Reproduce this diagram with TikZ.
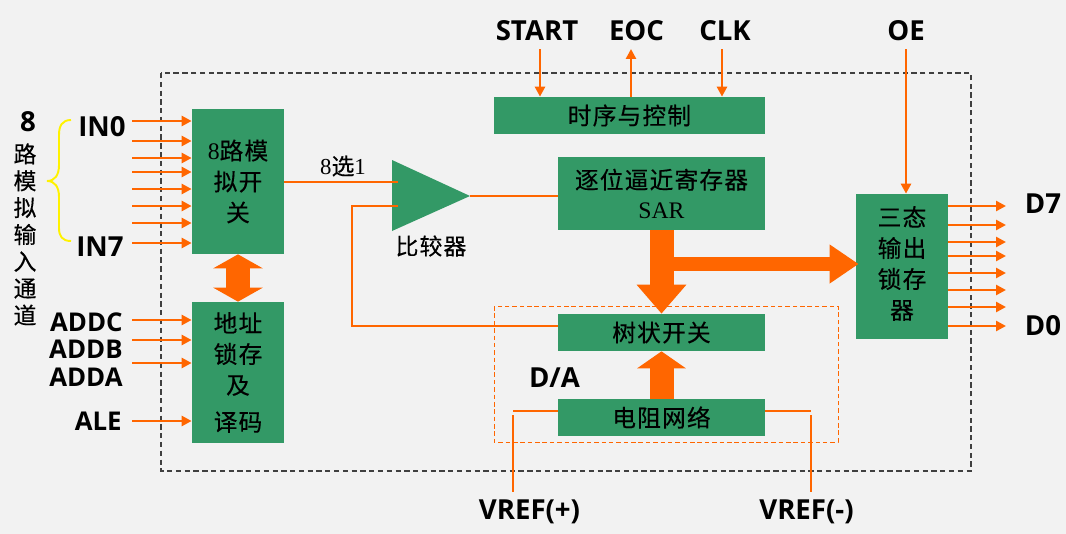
\documentclass[tikz,border=0pt]{standalone}
\usepackage{fontspec}
\setmainfont{Liberation Serif}
\newfontfamily\cjkfont[LetterSpace=5,FakeBold=0.35]{Noto Sans CJK SC}
\newfontfamily\labfont{Open Sans}
\usetikzlibrary{arrows.meta}
\definecolor{blockgreen}{HTML}{339966}
\definecolor{wireorange}{HTML}{FF6600}
\definecolor{pagegray}{HTML}{F2F2F2}
\newcommand{\zh}[1]{{\cjkfont #1}}
\tikzset{
  blockbox/.style={fill=blockgreen,inner sep=0pt,align=center,font=\fontsize{13.5}{17.6}\selectfont},
  wire/.style={wireorange,line width=1.6pt},
  sigline/.style={wire,-{Triangle[length=0.2cm,width=0.2cm]}},
  fatline/.style={wireorange,line width=0.48cm},
  pinlabel/.style={inner sep=0pt,font=\fontsize{15.7}{18}\selectfont\labfont\bfseries},
  addlabel/.style={pinlabel,anchor=east,font=\fontsize{14.7}{18}\selectfont\labfont\bfseries},
  zhlabel/.style={inner sep=0pt,align=center,font=\fontsize{13}{15.3}\selectfont}
}
\begin{document}
\begin{tikzpicture}[x=0.02cm,y=-0.02cm]
\useasboundingbox (0,0) rectangle (1066,534);
\fill[pagegray] (0,0) rectangle (1066,534);

%outer frames
\draw[black!75,dash pattern=on 3pt off 2pt,line width=0.6pt] (161,73) rectangle (971,471);
\draw[wireorange,dash pattern=on 2.6pt off 1.6pt,line width=0.55pt] (494,306) rectangle (838,442);

%blocks
\node[blockbox,minimum width=1.84cm,minimum height=2.9cm] (mux) at (238,181.5) {8\zh{路模}\\\zh{拟开}\\\zh{关}};
\node[blockbox,minimum width=1.84cm,minimum height=2.82cm] (addr) at (238,372.5) {\zh{地址}\\\zh{锁存}\\\zh{及}\\[3.4pt]\zh{译码}};
\node[blockbox,minimum width=5.42cm,minimum height=0.74cm] (ctrl) at (629.5,115.5) {\raisebox{-1pt}{\zh{时序与控制}}};
\node[blockbox,minimum width=4.14cm,minimum height=1.46cm] (sar) at (661.5,193.5) {\zh{逐位逼近寄存器}\\[-1pt]SAR};
\node[blockbox,minimum width=4.14cm,minimum height=0.74cm] (tree) at (661.5,332.5) {\raisebox{-1.5pt}{\zh{树状开关}}};
\node[blockbox,minimum width=4.14cm,minimum height=0.74cm] (res) at (661.5,417.5) {\raisebox{-0.7pt}{\zh{电阻网络}}};
\node[blockbox,minimum width=1.84cm,minimum height=2.9cm] (latch) at (902,266.5) {\zh{三态}\\\zh{输出}\\\zh{锁存}\\\zh{器}\rule[-4.5pt]{0pt}{0pt}};

%comparator
\coordinate (cmptop) at (392,160);
\coordinate (cmpbot) at (392,231);
\coordinate (cmptip) at (470,196);
\fill[blockgreen] (cmptop) -- (cmptip) -- (cmpbot) -- cycle;
\coordinate (cmpina) at (398,182);
\coordinate (cmpinb) at (398,206);
\coordinate (fbturn) at (352,326);
\draw[wire] (mux.east |- cmpina) -- (cmpina);
\draw[wire] (fbturn -| tree.west) -- (fbturn) -- (fbturn |- cmpinb) -- (cmpinb);
\draw[wire] (cmptip) -- (cmptip -| sar.west);

%input and output pins
\foreach \n/\y in {0/121,1/141,2/158,3/172,4/189,5/206,6/223,7/243}
{
\coordinate (in\n) at (132,\y);
\draw[sigline] (in\n) -- (in\n -| mux.west);
}
\foreach \n/\y in {c/320,b/340,a/363,e/421}
{
\coordinate (adr\n) at (132,\y);
\draw[sigline] (adr\n) -- (adr\n -| addr.west);
}
\foreach \n/\y in {7/206,6/225,5/242,4/256,3/273,2/290,1/307,0/326}
{
\coordinate (out\n) at (1006,\y);
\draw[sigline] (out\n -| latch.east) -- (out\n);
}

%top pins
\coordinate (startpin) at (540,49);
\coordinate (eocpin) at (631,49);
\coordinate (clkpin) at (722,49);
\coordinate (oepin) at (906,49);
\draw[sigline] (startpin) -- (startpin |- ctrl.north);
\draw[sigline] (eocpin |- ctrl.north) -- (eocpin);
\draw[sigline] (clkpin) -- (clkpin |- ctrl.north);
\draw[sigline] (oepin) -- (oepin |- latch.north);

%reference lines
\coordinate (vpa) at (513,411);
\coordinate (vpb) at (513,415);
\coordinate (vpc) at (513,492);
\coordinate (vma) at (811,411);
\coordinate (vmb) at (811,415);
\coordinate (vmc) at (811,492);
\draw[wire] (res.west |- vpa) -- (vpa);
\draw[wire] (vpb) -- (vpc);
\draw[wire] (res.east |- vma) -- (vma);
\draw[wire] (vmb) -- (vmc);

%fat arrows
\coordinate (bustap) at (662,264);
\draw[fatline,{Triangle[length=0.28cm,width=0.98cm]}-{Triangle[length=0.28cm,width=0.98cm]}] (mux.south) -- (addr.north);
\draw[fatline,-{Triangle[length=0.58cm,width=0.96cm]}] (sar.south) -- (tree.north);
\draw[fatline,-{Triangle[length=0.34cm,width=0.96cm]}] (res.north) -- (tree.south);
\draw[fatline,line width=0.28cm,shorten >=-0.06cm,-{Triangle[length=0.58cm,width=0.74cm]}] (bustap) -- (bustap -| latch.west);

%brace
\draw[yellow,line width=1.1pt] (71,120) .. controls (62,120) and (59,126) .. (59,135) -- (59,165) .. controls (59,175) and (55,181) .. (47,181) .. controls (55,181) and (59,187) .. (59,197) -- (59,228) .. controls (59,236) and (62,241) .. (71,241);

%labels
\node[pinlabel] (leftn) at (28,122) {8};
\node[zhlabel,anchor=north] (leftzh) at (25,143) {\zh{路}\\\zh{模}\\\zh{拟}\\\zh{输}\\\zh{入}\\\zh{通}\\\zh{道}};
\node[pinlabel,anchor=east] (inzero) at (126,127) {IN0};
\node[pinlabel,anchor=east] (inseven) at (124,247) {IN7};
\node[addlabel] (addc) at (123,322) {ADDC};
\node[addlabel] (addb) at (123,349) {ADDB};
\node[addlabel] (adda) at (123,377) {ADDA};
\node[addlabel] (ale) at (122,421) {ALE};
\node[pinlabel] (start) at (537,31) {START};
\node[pinlabel] (eoc) at (636.5,31) {EOC};
\node[pinlabel] (clk) at (725,31) {CLK};
\node[pinlabel] (oe) at (906,31) {OE};
\node[pinlabel] (dseven) at (1043,204) {D7};
\node[pinlabel] (dzero) at (1043,326) {D0};
\node[pinlabel] (da) at (554.5,378) {D/A};
\node[pinlabel] (vrefp) at (529.5,512) {VREF(+)};
\node[pinlabel] (vrefm) at (806.5,512) {VREF(-)};
\node[zhlabel] (sel) at (343,166) {8\zh{选}1};
\node[zhlabel] (cmpname) at (431,246) {\zh{比较器}};

\end{tikzpicture}
\end{document}
